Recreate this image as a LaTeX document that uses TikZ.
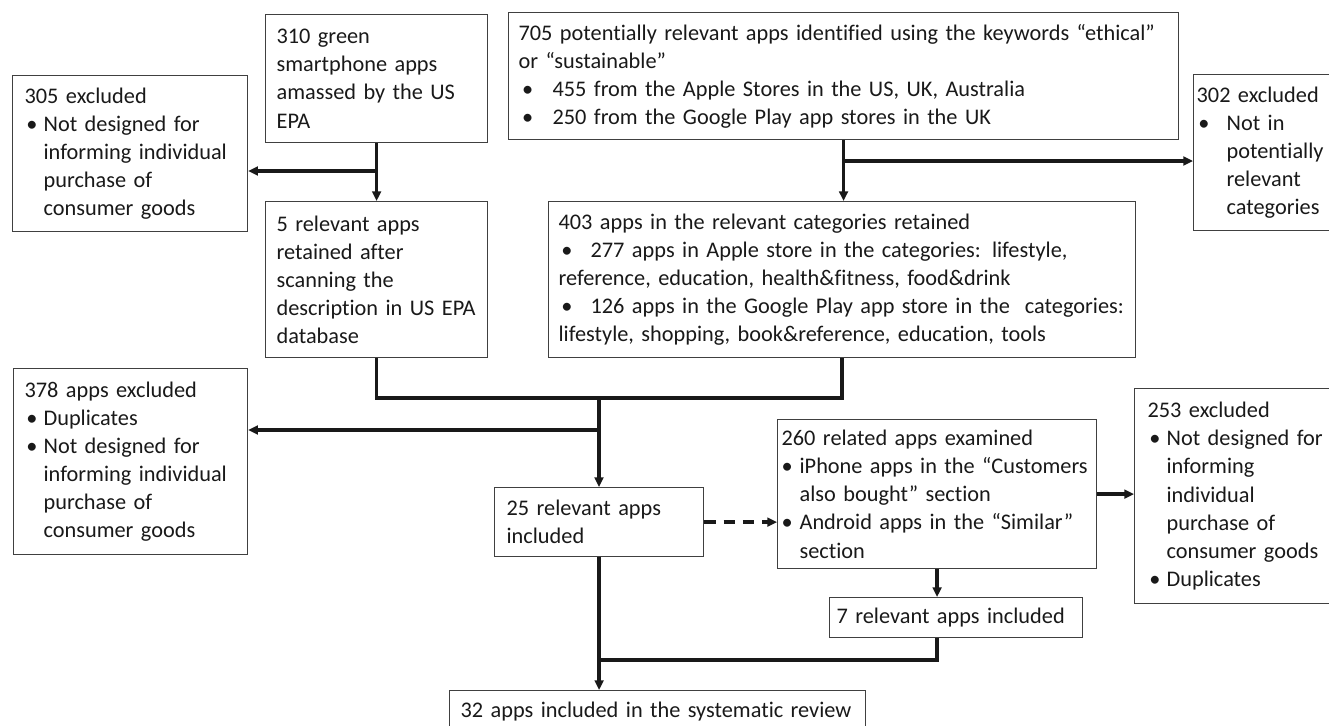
\documentclass[tikz,border=0pt]{standalone}
\usepackage{fontspec}
\setmainfont{Carlito}[Ligatures=NoCommon]
\usetikzlibrary{arrows.meta}

% bullet with hanging text, and the matching indent
\newcommand{\bul}[2][1pt]{\makebox[#2][l]{\hspace{#1}•}}
\newcommand{\ind}[1]{\hspace*{#1}}

\begin{document}
\begin{tikzpicture}[x=0.02cm, y=-0.02cm,
	box/.style = {shape=rectangle, draw=black!75, line width=0.7pt,
		anchor=north west, align=left, inner ysep=0pt, text=black!90,
		font=\fontsize{12.7}{16}\selectfont},
	conn/.style = {line width=1.9pt, black!90},
	flow/.style = {conn, -{Triangle[length=5.5pt, width=5pt]}}]
	\useasboundingbox (0,0) rectangle (1329,725);

	% first search: US EPA list
	\node[box, minimum width=4.44cm, minimum height=2.56cm, inner xsep=0.22cm, text width=4cm]
		(epa) at (265,14) {310 green\\ smartphone apps\\ amassed by the US\\ EPA};
	\node[box, minimum width=4.7cm, minimum height=3.12cm, inner xsep=0.24cm, text width=4.22cm]
		(exepa) at (12,75) {305 excluded\\ \bul{0.38cm}Not designed for\\ \ind{0.38cm}informing individual\\
		\ind{0.38cm}purchase of\\ \ind{0.38cm}consumer goods};
	\node[box, minimum width=4.44cm, minimum height=3.12cm, inner xsep=0.22cm, text width=4cm]
		(keep) at (265,201) {5 relevant apps\\ retained after\\ scanning the\\ description in US EPA\\ database};

	% second search: app stores
	\node[box, minimum width=13.4cm, minimum height=2.54cm, inner xsep=0.2cm, text width=13cm]
		(search) at (508,12) {705 potentially relevant apps identified using the keywords “ethical”\\ or “sustainable”\\
		\bul[2pt]{0.68cm}455 from the Apple Stores in the US, UK, Australia\\ \bul[2pt]{0.68cm}250 from the Google Play app stores in the UK};
	\node[box, minimum width=3.2cm, minimum height=3.12cm, inner xsep=0.06cm, text width=3.08cm]
		(exsearch) at (1193,74) {302 excluded\\ \bul{0.6cm}Not in\\ \ind{0.6cm}potentially\\ \ind{0.6cm}relevant\\ \ind{0.6cm}categories};
	\node[box, minimum width=11.74cm, minimum height=3.12cm, inner xsep=0.2cm, text width=11.34cm]
		(cat) at (548,201) {403 apps in the relevant categories retained\\
		\bul[1.5pt]{0.64cm}277 apps in Apple store in the categories: lifestyle,\\ reference, education, health\&fitness, food\&drink\\
		\bul[1.5pt]{0.64cm}126 apps in the Google Play app store in the \ categories:\\ lifestyle, shopping, book\&reference, education, tools};

	% merged results
	\node[box, minimum width=4.68cm, minimum height=3.72cm, inner xsep=0.22cm, text width=4.24cm]
		(exall) at (13,368) {378 apps excluded\\ \bul{0.38cm}Duplicates\\ \bul{0.38cm}Not designed for\\
		\ind{0.38cm}informing individual\\ \ind{0.38cm}purchase of\\ \ind{0.38cm}consumer goods};
	\node[box, minimum width=4.18cm, minimum height=1.38cm, inner xsep=0.24cm, text width=3.7cm]
		(incl) at (494,487) {25 relevant apps\\ included};

	% related apps
	\node[box, minimum width=6.38cm, minimum height=2.98cm, inner xsep=0.08cm, text width=6.22cm]
		(related) at (777,419) {260 related apps examined\\ \bul[0pt]{0.36cm}iPhone apps in the “Customers\\
		\ind{0.36cm}also bought” section\\ \bul[0pt]{0.36cm}Android apps in the “Similar”\\ \ind{0.36cm}section};
	\node[box, minimum width=4.22cm, minimum height=4.3cm, inner xsep=0.26cm, text width=3.7cm]
		(exrel) at (1134,388) {253 excluded\\ \bul{0.38cm}Not designed for\\ \ind{0.38cm}informing\\ \ind{0.38cm}individual\\
		\ind{0.38cm}purchase of\\ \ind{0.38cm}consumer goods\\ \bul{0.38cm}Duplicates};
	\node[box, minimum width=5.06cm, minimum height=0.8cm, inner xsep=0.14cm, text width=4.78cm]
		(more) at (829,597) {7 relevant apps included};

	\node[box, minimum width=8.32cm, minimum height=0.84cm, inner xsep=0.22cm, text width=7.88cm]
		(final) at (449,690) {32 apps included in the systematic review};

	% connectors
	\coordinate (ja) at (epa.south |- 0,171);
	\draw[conn] (epa.south) -- (ja);
	\draw[flow] (ja) -- (ja |- keep.north);
	\draw[flow] (ja) -- (ja -| exepa.east);

	\coordinate (jc) at (search.south |- 0,161);
	\draw[conn] (search.south) -- (jc);
	\draw[flow] (jc) -- (jc |- cat.north);
	\draw[flow] (jc) -- (jc -| exsearch.west);

	\coordinate (mid) at (599,398);
	\draw[conn] (keep.south) |- (mid) -| (cat.south);
	\coordinate (jm) at (mid |- 0,430);
	\draw[conn] (mid) -- (jm);
	\draw[flow] (jm) -- (jm |- incl.north);
	\draw[flow] (jm) -- (jm -| exall.east);

	\draw[flow, dash pattern=on 6.5pt off 4.5pt] (incl.east) -- (incl.east -| related.west);
	\draw[flow] (related.east) -- (related.east -| exrel.west);
	\draw[flow] (related.south) -- (related.south |- more.north);

	\coordinate (jf) at (incl.south |- 0,660);
	\draw[conn] (related.south |- more.south) |- (jf);
	\draw[flow] (incl.south) -- (incl.south |- final.north);
\end{tikzpicture}
\end{document}
